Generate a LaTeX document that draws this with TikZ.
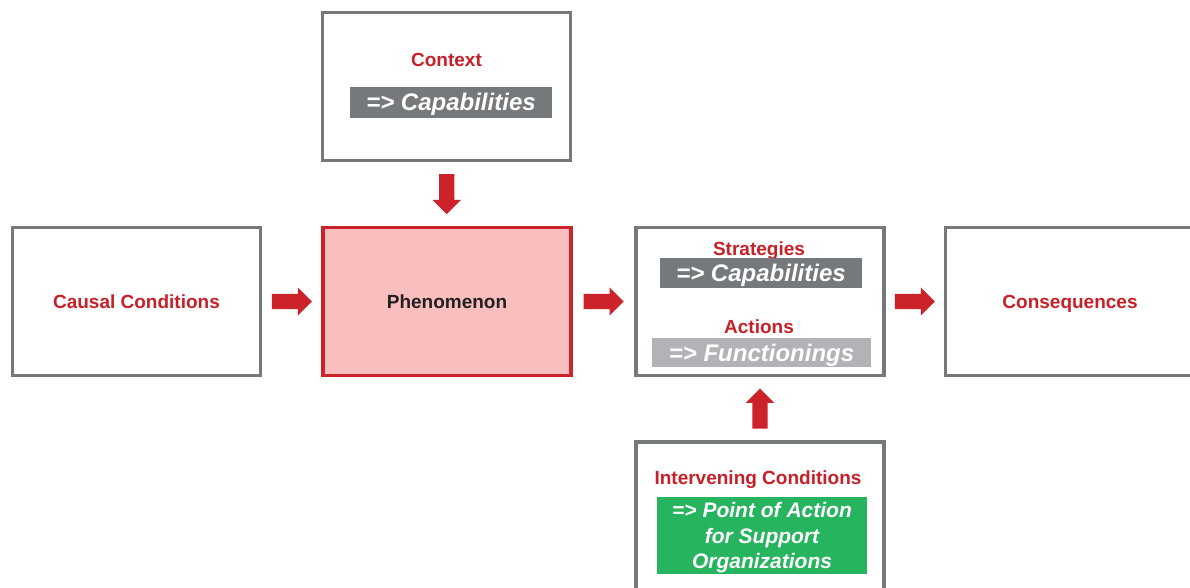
\documentclass[tikz,border=0pt]{standalone}
\usepackage{fontspec}
\setmainfont{Liberation Sans}
\usetikzlibrary{shapes.arrows,calc}
\definecolor{boxgray}{RGB}{118,121,124}
\definecolor{lightgray}{RGB}{177,179,182}
\definecolor{txtred}{RGB}{200,32,40}
\definecolor{arrred}{RGB}{204,34,41}
\definecolor{phenfill}{RGB}{249,191,191}
\definecolor{tagreen}{RGB}{38,180,95}
\definecolor{txtblack}{RGB}{35,31,32}
\begin{document}
\begin{tikzpicture}[x=1pt,y=-1pt,
  box/.style={draw=boxgray, line width=3.5pt, fill=white, minimum width=248pt, minimum height=148pt, inner sep=0pt},
  phenbox/.style={box, draw=arrred, fill=phenfill},
  lbl/.style={text=txtred, font=\fontsize{19}{23}\selectfont\bfseries, inner sep=0pt, anchor=base},
  tag/.style={font=\fontsize{24}{28}\selectfont\bfseries\itshape, text=white, inner sep=0pt, text height=17pt, text depth=0pt},
  blk/.style={single arrow, fill=arrred, draw=none, inner xsep=0pt, inner ysep=7.5pt, minimum height=40pt, single arrow head extend=6.5pt, single arrow tip angle=90, anchor=tail},
  blkv/.style={blk, inner xsep=7.5pt, inner ysep=0pt}
]
\useasboundingbox (0,0) rectangle (1190,588);
\clip (0,0) rectangle (1190,588);
\fill[white] (0,0) rectangle (1190,588);

% boxes
\node[box] (context) at (446.5,86.5) {};
\node[box] (causal) at (136.5,301.5) {};
\node[phenbox] (phen) at (447,301.5) {};
\node[box] (strat) at (760,301.5) {};
\node[box] (cons) at (1069.5,301.5) {};
\node[box] (interv) at (760,516) {};

% labels
\node[lbl] (tctx) at (446.5,67) {Context};
\node[tag, fill=boxgray, minimum width=202pt, minimum height=31pt] (gctx) at (451,102.5) {=> Capabilities};

\node[lbl] (tcausal) at (136.5,308) {Causal Conditions};
\node[lbl, text=txtblack] (tphen) at (447,308) {Phenomenon};
\node[lbl] (tcons) at (1070,308) {Consequences};

\node[lbl] (tstrat) at (759,255) {Strategies};
\node[tag, fill=boxgray, minimum width=202pt, minimum height=30pt] (gstrat) at (761,273) {=> Capabilities};
\node[lbl] (tact) at (759,333) {Actions};
\node[tag, fill=lightgray, minimum width=219pt, minimum height=29pt] (gact) at (761.5,352.5) {=> Functionings};

\node[lbl] (tinterv) at (758,484) {Intervening Conditions};
\node[fill=tagreen, inner sep=0pt, minimum width=210pt, minimum height=77pt] (ginterv) at (762,535.5) {};
\node[text=white, font=\fontsize{21}{25.5}\selectfont\bfseries\itshape, align=center, inner sep=0pt] (tgreen) at ($(ginterv.center)+(0,2.5)$) {=> Point of Action\\for Support\\Organizations};

% block arrows
\node[blk] (a1) at ($(causal.east)!0.5!(phen.west)+(-20,0)$) {};
\node[blk] (a2) at ($(phen.east)!0.5!(strat.west)+(-20,0)$) {};
\node[blk] (a3) at ($(strat.east)!0.5!(cons.west)+(-20,0)$) {};
\node[blkv, shape border rotate=270] (a4) at ($(context.south)!0.5!(phen.north)+(0,-20)$) {};
\node[blkv, shape border rotate=90] (a5) at ($(interv.north)!0.5!(strat.south)+(0,20)$) {};
\end{tikzpicture}
\end{document}
